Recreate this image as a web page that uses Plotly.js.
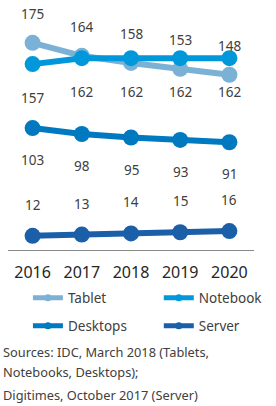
<!DOCTYPE html>
<html><head><meta charset="utf-8">
<script src="https://cdn.plot.ly/plotly-3.0.1.min.js"></script>
<style>html,body{margin:0;padding:0;background:#fff}</style>
</head><body><div id="chart" style="width:276px;height:406px"></div>
<script>
const years = ['2016','2017','2018','2019','2020'];
const tablet = [175,164,158,153,148];
const notebook = [157,162,162,162,162];
const desktops = [103,98,95,93,91];
const server = [12,13,14,15,16];

const seriesNames = ['Tablet','Notebook','Desktops','Server'];
const seriesData = [tablet, notebook, desktops, server];
const colors = ['#7BB1D5','#0098DB','#0079C1','#1B5FA9'];
const labelShift = [29, -34, -32, 31];
const FONT = 'Noto Sans, sans-serif';
const TXT = '#404040';

const traces = [];
seriesData.forEach((d,i)=>{
  traces.push({x: years, y: d, type:'scatter', mode:'lines+markers', name: seriesNames[i],
    line:{color:colors[i], width:6}, marker:{color:colors[i], size:16}, showlegend:false,
    cliponaxis:false, hoverinfo:'skip'});
});
// legend entries, one legend box per series (2x2 grid)
const legendIds = ['legend','legend2','legend3','legend4'];
seriesData.forEach((d,i)=>{
  traces.push({x:[null], y:[null], type:'scatter', mode:'lines+markers', name: seriesNames[i],
    line:{color:colors[i], width:5}, marker:{color:colors[i], size:7},
    legend: legendIds[i]});
});

const annotations = [];
seriesData.forEach((d,i)=>{
  d.forEach((v,j)=>{
    annotations.push({xref:'x', yref:'y', x: j, y: v, text: String(v), showarrow:false, yshift: labelShift[i],
      font:{family:FONT, size:13.5, color:TXT}});
  });
});
const srcLines = ['Sources: IDC, March 2018 (Tablets,','Notebooks, Desktops);','Digitimes, October 2017 (Server)'];
const srcY = [-0.425, -0.508, -0.604];
srcLines.forEach((t,i)=>{
  annotations.push({xref:'paper', yref:'paper', x:-0.028, y:srcY[i], xanchor:'left', yanchor:'middle',
    text:t, showarrow:false, font:{family:FONT, size:12.8, color:TXT}});
});

const legBase = {orientation:'h', xanchor:'left', yanchor:'middle',
  font:{family:FONT, size:13.5, color:TXT}, bgcolor:'rgba(0,0,0,0)', itemclick:false};
const legX = [0.081, 0.613, 0.081, 0.613];
const legY = [-0.2, -0.2, -0.317, -0.317];

const layout = {
  width:276, height:406,
  margin:{l:8, r:20, t:10, b:156},
  paper_bgcolor:'#fff', plot_bgcolor:'#fff',
  font:{family:FONT, color:TXT},
  xaxis:{type:'category', range:[-0.5,4.5], showline:true, linecolor:'#888', linewidth:1,
    showgrid:false, zeroline:false, ticks:'', ticklabelstandoff:8,
    tickfont:{family:FONT, size:16, color:'#262626'}},
  yaxis:{range:[0,202.7], visible:false, showgrid:false, zeroline:false},
  annotations: annotations,
  showlegend:true
};
legendIds.forEach((id,i)=>{ layout[id] = Object.assign({}, legBase, {x:legX[i], y:legY[i]}); });
Plotly.newPlot('chart', traces, layout, {staticPlot:true, displayModeBar:false});
</script></body></html>
